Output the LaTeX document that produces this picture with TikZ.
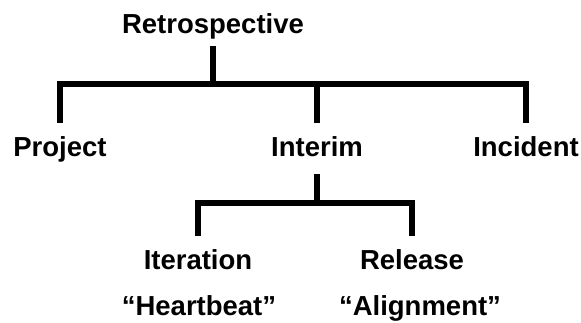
\documentclass[tikz,border=0pt]{standalone}
\usepackage{fontspec}
\setmainfont{Liberation Sans}
\begin{document}
\begin{tikzpicture}[x=1pt,y=-1pt,
  lbl/.style={font=\fontsize{27.5}{30}\selectfont\bfseries, inner sep=0pt,
    text height=20pt, text depth=6pt, anchor=base},
  conn/.style={line width=6pt, line join=miter, line cap=butt}]
\useasboundingbox (0,0) rectangle (581,322);
\node[lbl] (retro) at (213,33) {Retrospective};
\node[lbl] (proj) at (60,156) {Project};
\node[lbl] (inter) at (317,156) {Interim};
\node[lbl] (inci) at (526,156) {Incident};
\node[lbl] (iter) at (198,269) {Iteration};
\node[lbl] (rel) at (412,269) {Release};
\node[lbl] (hb) at (199,315) {“Heartbeat”};
\node[lbl] (al) at (420,315) {“Alignment”};
\coordinate (bus1) at (213,84);
\coordinate (bus2) at (317,203);
% level 1
\draw[conn, shorten <=7pt] (retro.south) -- (bus1);
\draw[conn, shorten <=13pt, shorten >=13pt] (proj.north) -- (proj.north |- bus1) -- (inci.north |- bus1) -- (inci.north);
\draw[conn, shorten >=13pt] (inter.north |- bus1) -- (inter.north);
% level 2
\draw[conn, shorten <=12pt] (inter.south) -- (bus2);
\draw[conn, shorten <=13pt, shorten >=13pt] (iter.north) -- (iter.north |- bus2) -- (rel.north |- bus2) -- (rel.north);
\end{tikzpicture}
\end{document}
